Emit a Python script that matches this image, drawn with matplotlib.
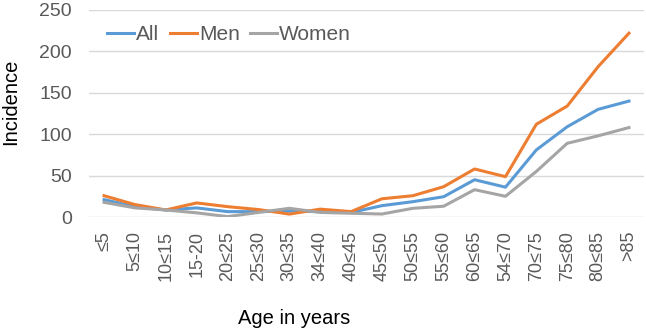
import numpy as np
import matplotlib
matplotlib.use("Agg")
from matplotlib import pyplot as plt

plt.rcParams['font.family'] = ['Liberation Sans', 'DejaVu Sans']

ages = ["≤5", "5≤10", "10≤15", "15-20", "20≤25", "25≤30", "30≤35", "34≤40", "40≤45",
        "45≤50", "50≤55", "55≤60", "60≤65", "54≤70", "70≤75", "75≤80", "80≤85", ">85"]
allInc = [21, 12.5, 8.5, 11, 6.5, 6.5, 7, 6.5, 5.5, 13.7, 18.5, 24.5, 45, 36, 81, 109, 130, 140]
menInc = [25.7, 15, 8.5, 17, 12.5, 9, 3.5, 9.5, 6.5, 22, 25.7, 36.6, 58, 48.7, 112, 134, 181.5, 222]
womenInc = [17.7, 11, 8.5, 5, 0.5, 5.5, 10.5, 5.5, 4.5, 3.6, 10.5, 13, 33, 25, 55, 89, 98, 108]

W, H = 646, 333
fig = plt.figure(figsize=(W / 100, H / 100), dpi=100)
left, right, top, bottom = 88.6, 644.4, 10, 217 #pixel edges of plot area
ax = fig.add_axes([left / W, (H - bottom) / H, (right - left) / W, (bottom - top) / H])

x = np.arange(len(ages))
ax.plot(x, allInc, color='#5B9BD5', lw=2.2, label='All', solid_joinstyle='round')
ax.plot(x, menInc, color='#ED7D31', lw=2.2, label='Men', solid_joinstyle='round')
ax.plot(x, womenInc, color='#A5A5A5', lw=2.2, label='Women', solid_joinstyle='round')

ax.set_xlim(-0.5, len(ages) - 0.5)
ax.set_ylim(0, 250)
ax.set_yticks(range(0, 251, 50))
ax.set_xticks(x)
ax.set_xticklabels(ages, rotation=90, fontsize=13, color='#595959')
ax.tick_params(axis='y', labelsize=14, labelcolor='#595959', length=0, pad=12)
ax.tick_params(axis='x', length=0, pad=10)
ax.grid(axis='y', color='#D9D9D9', lw=1)
ax.set_axisbelow(True)
for s in ax.spines.values():
    s.set_visible(False)

ax.set_ylabel('Incidence', fontsize=14.5)
ax.yaxis.label.set_va('center')
ax.yaxis.set_label_coords((11 - left) / (right - left), (bottom - 102) / (bottom - top))
ax.set_xlabel('Age in years', fontsize=14.5)
ax.xaxis.label.set_va('center')
ax.xaxis.set_label_coords((294 - left) / (right - left), -(319 - bottom) / (bottom - top))

ax.legend(loc='center left', bbox_to_anchor=((107 - left) / (right - left), (bottom - 35) / (bottom - top)),
          ncol=3, frameon=False, fontsize=15, handlelength=1.3, handletextpad=0.1,
          columnspacing=0.5, borderaxespad=0, borderpad=0, labelcolor='#595959')

fig.savefig('out.png', dpi=100)
